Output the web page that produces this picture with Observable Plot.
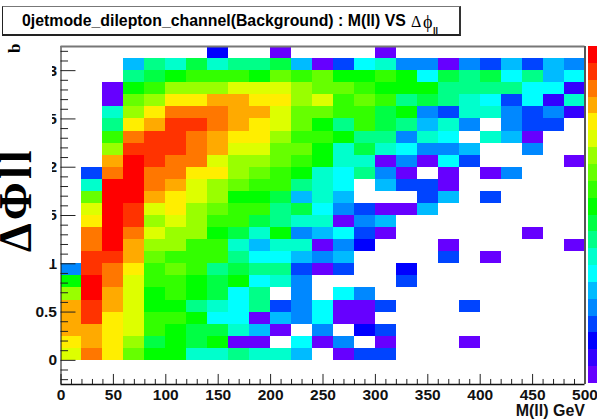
<!DOCTYPE html>
<html><head><meta charset="utf-8">
<script src="https://cdn.jsdelivr.net/npm/d3@7"></script>
<script src="https://cdn.jsdelivr.net/npm/@observablehq/plot@0.6"></script>
<style>
html,body{margin:0;padding:0;background:#fff;overflow:hidden}
#wrap{position:relative;width:597px;height:419px;overflow:hidden;font-family:"Liberation Sans",sans-serif}
#wrap svg{display:block;position:absolute;left:0;top:0;background:transparent}
#titlebox{position:absolute;left:2px;top:6px;width:456px;height:27px;border:1px solid #222;border-top:1px solid #777;border-right:2px solid #333;border-bottom:2px solid #222;background:#fff;white-space:nowrap}
#titlebox span{position:absolute;line-height:1}
#ymask{position:absolute;left:0;top:40px;width:52px;height:224px;background:#fff;overflow:hidden}
#ymask span{position:absolute;transform-origin:0 0;transform:rotate(-90deg);font-family:"Liberation Serif",serif;font-weight:bold;white-space:nowrap}
#bar{position:absolute;left:588px;top:46px}
</style></head><body><div id="wrap"></div>
<script>
const xEdges = d3.range(0, 500, 20);
const binW = 20, binH = 0.125;
const _ = null;
// colour level of each bin (0 lowest .. 19 highest), bottom row first
const row00 = [14,17,15,12,10,10,7,7,8,7,7,5,_,0,3,3,_,_,_,_,_,_,_,_,_];
const row01 = [15,16,15,13,9,10,9,10,0,0,_,6,0,4,_,0,_,_,_,0,_,_,_,_,_];
const row02 = [16,16,15,14,11,10,9,9,7,5,0,_,4,_,2,3,_,_,_,_,_,_,_,_,_];
const row03 = [16,18,15,14,11,11,10,6,6,0,5,4,6,0,0,_,_,_,_,_,_,_,_,_,_];
const row04 = [16,18,16,14,10,10,8,7,6,8,3,4,6,0,0,3,_,_,_,3,_,_,_,_,_];
const row05 = [13,19,16,14,10,11,10,9,6,8,_,4,_,6,4,_,_,_,_,_,_,_,_,_,_];
const row06 = [10,19,17,14,11,11,10,9,10,6,7,4,_,_,_,_,3,_,_,_,_,_,_,_,_];
const row07 = [4,18,17,15,11,12,11,8,9,8,8,3,0,3,_,_,2,_,_,_,_,_,_,_,_];
const row08 = [_,18,18,16,12,11,11,11,8,6,6,5,4,5,_,_,_,_,3,_,0,_,_,_,_];
const row09 = [_,17,19,16,13,13,11,11,7,5,7,7,0,4,2,_,_,_,0,_,_,_,_,_,0];
const row10 = [_,17,19,17,14,13,13,10,9,7,10,4,5,6,3,0,_,_,_,_,_,_,0,_,_];
const row11 = [_,15,19,18,13,14,13,11,11,9,8,7,7,0,4,5,_,_,_,_,_,_,_,_,_];
const row12 = [_,14,19,18,14,15,13,12,11,11,8,9,6,4,3,0,0,5,_,_,_,_,_,_,_];
const row13 = [_,12,19,19,16,15,14,13,10,10,9,5,7,5,_,_,_,3,5,_,3,_,_,_,_];
const row14 = [_,7,19,19,17,16,14,13,12,11,11,8,7,6,_,5,3,3,0,_,_,_,_,_,_];
const row15 = [_,3,17,19,17,17,15,15,13,12,11,10,7,6,8,4,0,_,0,_,0,4,_,_,_];
const row16 = [_,_,16,19,18,17,17,14,13,13,12,11,10,7,7,0,4,0,6,3,_,_,_,_,0];
const row17 = [_,_,13,18,18,18,17,16,14,14,12,12,10,7,9,7,6,4,4,5,_,_,4,_,_];
const row18 = [_,_,11,17,18,18,17,16,15,15,13,11,11,10,8,8,4,7,6,_,7,5,0,_,_];
const row19 = [_,_,8,15,16,18,18,17,16,15,14,12,10,8,11,9,8,5,7,4,_,4,3,3,_];
const row20 = [_,_,7,13,15,17,17,17,16,16,14,12,12,11,11,9,10,4,3,7,7,4,3,4,1];
const row21 = [_,_,0,12,13,15,15,16,16,15,15,13,14,11,12,11,8,9,8,7,6,3,6,1,7];
const row22 = [_,_,0,10,11,13,13,13,14,14,14,13,12,12,11,10,10,10,8,8,8,8,6,6,1];
const row23 = [_,_,_,8,9,10,11,11,11,10,12,11,12,10,10,11,10,6,9,8,9,6,8,5,6];
const row24 = [_,_,_,5,8,7,9,7,8,8,9,5,0,3,6,7,4,4,0,4,3,5,3,5,4];
const row25 = [_,_,_,_,_,_,_,2,_,_,0,_,_,_,_,0,_,_,_,_,_,_,_,_,_];
const rows = [row00,row01,row02,row03,row04,row05,row06,row07,row08,row09,row10,row11,row12,row13,row14,row15,row16,row17,row18,row19,row20,row21,row22,row23,row24,row25];
const palette = ["#6600ff","#3300ff","#0000ff","#0044ff","#0088ff","#00bbff","#00ffff","#00ffcc","#00ff88","#00ff44","#00ff00","#33ff00","#66ff00","#99ff00","#ddff00","#ffee00","#ffaa00","#ff7700","#ff3300","#ff0000"];
const levels = d3.range(palette.length);
const xMajor = d3.range(0, 501, 50);
const xMinor = d3.range(0, 501, 10).filter(v => v % 50);
const yMajor = [0, 0.5, 1, 1.5, 2, 2.5, 3];
const yMinor = d3.range(-2, 33).map(v => v / 10).filter(v => !yMajor.includes(v));
const titleText = "0jetmode_dilepton_channel(Background) : M(ll) VS";
const xTitle = "M(ll) GeV";

const cells = [];
rows.forEach((r, j) => r.forEach((v, i) => { if (v !== null) cells.push({x: xEdges[i], y: j * binH, v}); }));

const font = {fontFamily: "Liberation Sans", fontWeight: "bold", fontSize: 15.5};
const chart = Plot.plot({
  width: 597, height: 419,
  marginLeft: 60.5, marginRight: 12.5, marginTop: 46, marginBottom: 35,
  style: {background: "transparent", color: "#111", overflow: "visible"},
  x: {domain: [0, 500]},
  y: {domain: [-0.25, 3.25]},
  color: {type: "ordinal", domain: levels, range: palette},
  marks: [
    Plot.rect(cells, {x1: "x", x2: d => d.x + binW, y1: "y", y2: d => d.y + binH, fill: "v", shapeRendering: "crispEdges"}),
    Plot.axisX({ticks: xMajor, tickSize: 0, tickPadding: 4, label: null, tickFormat: d => d, ...font}),
    Plot.axisY({ticks: yMajor, tickSize: 0, tickPadding: 4, label: null, tickFormat: d => d, ...font}),
    Plot.ruleX(xMajor, {y1: -0.25, y2: -0.146, stroke: "#222"}),
    Plot.ruleX(xMinor, {y1: -0.25, y2: -0.198, stroke: "#222"}),
    Plot.ruleY(yMajor, {x1: 0, x2: 14.3, stroke: "#222"}),
    Plot.ruleY(yMinor, {x1: 0, x2: 7.2, stroke: "#222"}),
    Plot.ruleX([0], {y1: -0.25, y2: 3.25, stroke: "#111"}),
    Plot.ruleY([-0.25], {x1: 0, x2: 500, stroke: "#111", strokeWidth: 1.3}),
    Plot.ruleY([3.25], {x1: 0, x2: 500, stroke: "#777", strokeWidth: 2}),
    Plot.ruleX([500], {y1: -0.25, y2: 3.25, stroke: "#555", strokeWidth: 2}),
    Plot.text([xTitle], {frameAnchor: "bottom-right", dy: 31.5, dx: 0, text: d => d, ...font, fontSize: 16, textAnchor: "end"})
  ]
});
const wrap = document.getElementById("wrap");
wrap.append(chart);

const bar = Plot.plot({
  width: 9, height: 337, margin: 0,
  x: {axis: null}, y: {axis: null, domain: [0, palette.length]},
  color: {type: "ordinal", domain: levels, range: palette},
  marks: [Plot.rect(levels, {x1: 0, x2: 1, y1: d => d, y2: d => d + 1, fill: d => d, shapeRendering: "crispEdges"})]
});
const barBox = document.createElement("div"); barBox.id = "bar"; barBox.append(bar); wrap.append(barBox);
bar.style.position = "static";

const mask = document.createElement("div"); mask.id = "ymask";
mask.innerHTML = '<span style="font-size:46px;line-height:.717;left:0;top:212px;letter-spacing:3px">\u0394\u03A6ll</span><span style="font-size:17px;line-height:1;left:6px;top:13px">b</span>';
wrap.append(mask);

const tb = document.createElement("div"); tb.id = "titlebox";
tb.innerHTML = '<span style="left:19px;top:5px;font:bold 15.85px \'Liberation Sans\'">' + titleText + '</span>'
  + '<span style="left:408px;top:6px;font:16px \'Liberation Serif\'">\u0394</span>'
  + '<span style="left:420px;top:5px;font:18px \'Liberation Serif\'">\u03D5</span>'
  + '<span style="left:430px;top:19px;font:bold 9px \'Liberation Sans\'">ll</span>';
wrap.append(tb);
</script></body></html>
